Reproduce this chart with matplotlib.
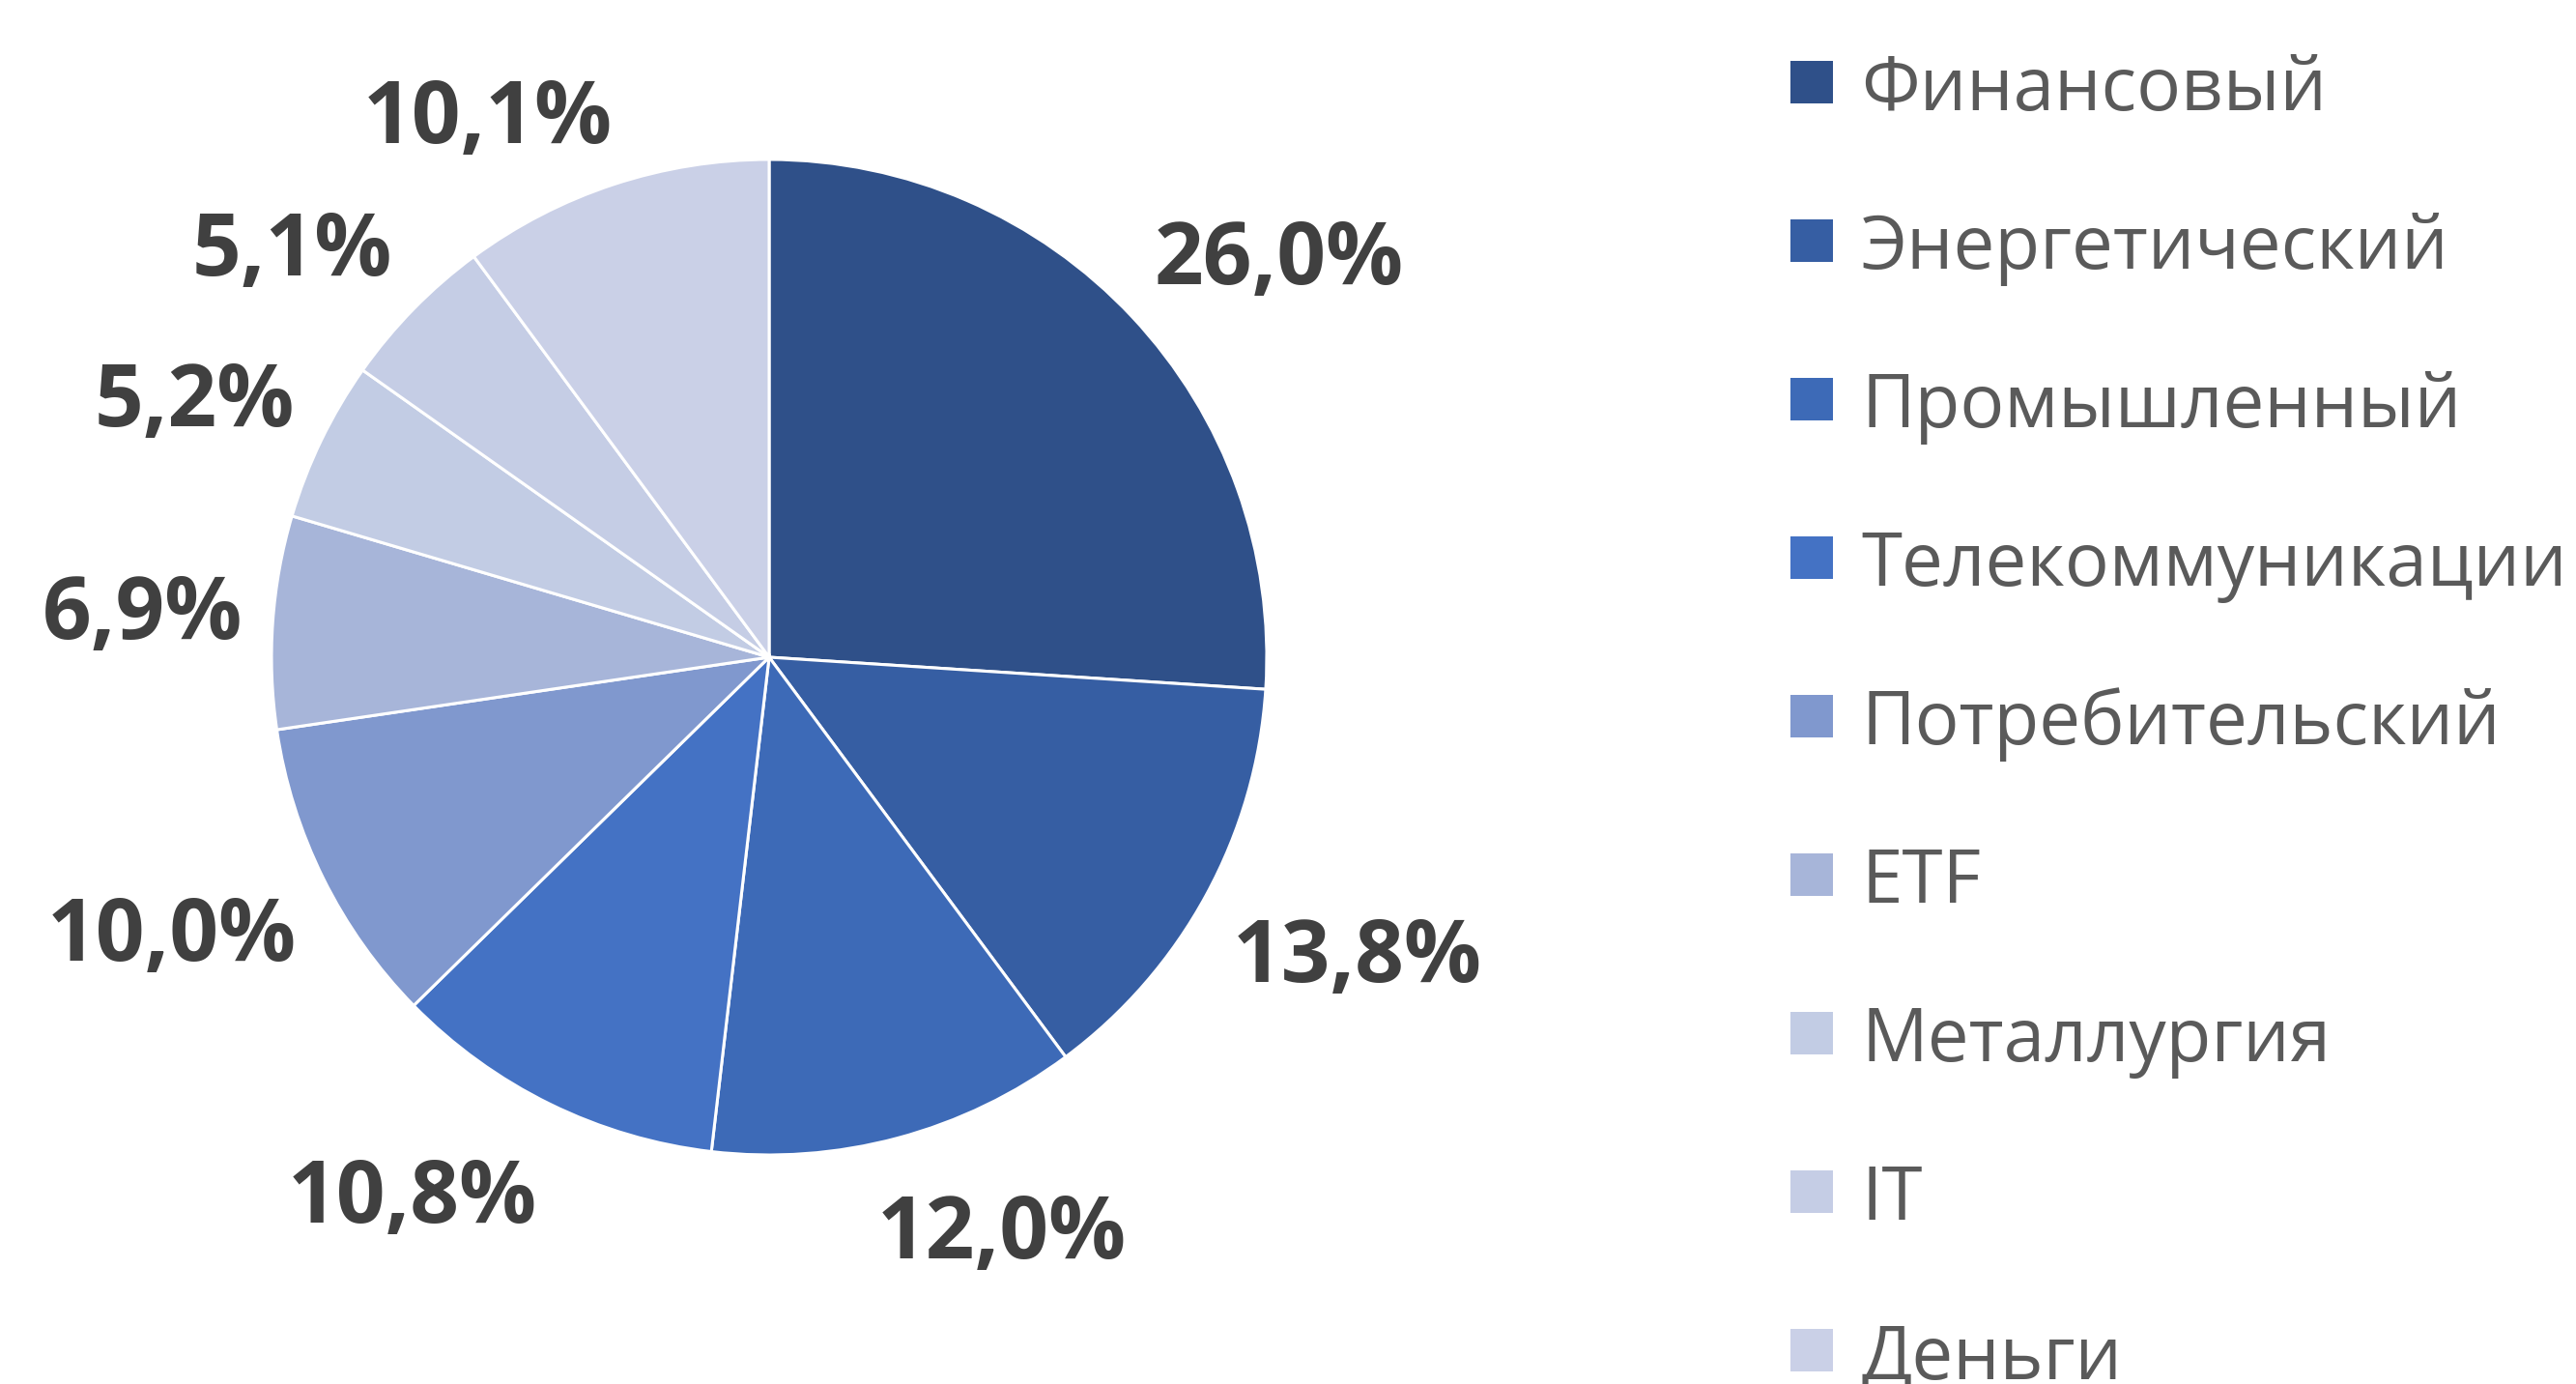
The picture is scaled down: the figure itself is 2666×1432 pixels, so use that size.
import matplotlib.pyplot as plt
from matplotlib.patches import Rectangle
import numpy as np

# sector shares, clockwise from 12 o'clock
sectors = ['Финансовый', 'Энергетический', 'Промышленный', 'Телекоммуникации',
           'Потребительский', 'ETF', 'Металлургия', 'IT', 'Деньги']
shares = [26.0, 13.8, 12.0, 10.8, 10.0, 6.9, 5.2, 5.1, 10.1]
colors = ['#2f5089', '#365ea3', '#3d6ab7', '#4472c4', '#8098ce',
          '#a7b5d9', '#c2cce4', '#c5cde5', '#cad0e7']

plt.rcParams['font.family'] = ['Open Sans', 'DejaVu Sans']

W, H = 2666, 1432
fig = plt.figure(figsize=(W / 100, H / 100), dpi=100)

# pie centre / radius in pixels
cx, cy, r = 796, 1432 - 680, 515
ax = fig.add_axes([(cx - r) / W, (cy - r) / H, 2 * r / W, 2 * r / H])

wedges, _ = ax.pie(shares, colors=colors, startangle=90, counterclock=False,
                   radius=1, wedgeprops=dict(edgecolor='white', linewidth=2.2))
ax.set_xlim(-1, 1)
ax.set_ylim(-1, 1)
ax.set_aspect('equal')
ax.axis('off')

# data labels outside the pie, box corner placed just off the edge (excel style)
labels = []
for w, v in zip(wedges, shares):
    t = ax.text(0, 0, f'{v:.1f}%'.replace('.', ','), ha='center', va='center',
                fontsize=64, fontweight='bold', color='#404040', clip_on=False)
    labels.append((w, t))
fig.canvas.draw()
rend = fig.canvas.get_renderer()
for w, t in labels:
    bb = t.get_window_extent(rend)
    ang = np.deg2rad((w.theta1 + w.theta2) / 2)
    ux, uy = np.cos(ang), np.sin(ang)
    hw = bb.width / 2 / r
    hh = bb.height / 2 / r * (0.8 if uy > 0 else 1.6)
    px, py = 1.06 * ux, 1.06 * uy
    t.set_position((px + hw * np.clip(3 * ux, -1, 1), py + hh * np.clip(1.5 * uy, -1, 1)))

# legend on the right
y0, step = 1432 - 85, 164
for i, (name, c) in enumerate(zip(sectors, colors)):
    yy = y0 - i * step
    fig.patches.append(Rectangle(((1853) / W, (yy - 22) / H), 44 / W, 44 / H,
                                 transform=fig.transFigure, facecolor=c,
                                 edgecolor='none'))
    fig.text(1926 / W, yy / H, name, ha='left', va='center_baseline',
             fontsize=55, color='#5a5a5a')

fig.savefig('out.png', dpi=100, facecolor='white')
